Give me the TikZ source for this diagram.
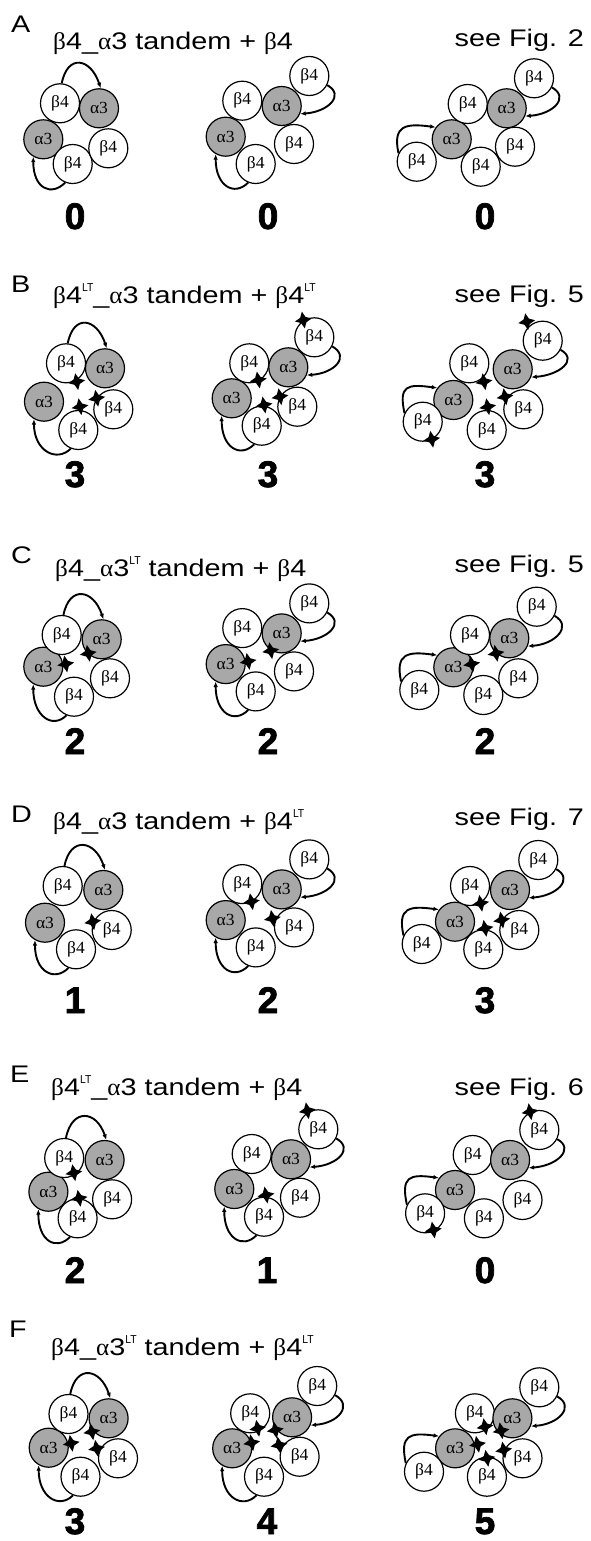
\documentclass[tikz,border=0pt]{standalone}
\usepackage{fontspec}
\setmainfont{Liberation Sans}
\newfontfamily\ttlfont[FakeStretch=1.2]{Liberation Sans}
\newfontfamily\gkfont[FakeStretch=1.05]{Liberation Serif}
\newfontfamily\cirfont[FakeStretch=1.03]{Liberation Serif}
\newfontfamily\ltfont[FakeStretch=0.9]{Liberation Sans}
\newfontfamily\digfont[BoldFeatures={FakeBold=2}]{Liberation Sans}
\usetikzlibrary{arrows.meta}
\definecolor{agray}{RGB}{168,168,168}
\newcommand\gb{{\gkfont β}}
\newcommand\ga{{\gkfont α}}
\newcommand\ltsup{\raisebox{0.47em}{\fontsize{11.5}{11.5}\selectfont\ltfont LT}}
\tikzset{
  sub/.style={circle,draw=black,line width=1.2pt,fill=white,minimum size=39pt,inner sep=0pt,
    font=\fontsize{17}{17}\selectfont\cirfont},
  asub/.style={sub,fill=agray},
  arr/.style={line width=1.9pt,-{Latex[length=5.5pt,width=4.5pt]}},
  ttl/.style={anchor=base west,inner sep=0pt,font=\fontsize{24}{24}\selectfont\ttlfont},
  plab/.style={anchor=base west,inner sep=0pt,font=\fontsize{24}{24}\selectfont\ttlfont},
  fig/.style={anchor=base east,inner sep=0pt,font=\fontsize{24}{24}\selectfont\ttlfont},
  num/.style={anchor=base,inner sep=0pt,font=\fontsize{37}{37}\selectfont\digfont\bfseries},
  star4/.pic={\fill[black,rotate=10] (0,-8.5) -- (2.7,-2.7) -- (8.5,0) -- (2.7,2.7) -- (0,8.5) -- (-2.7,2.7) -- (-8.5,0) -- (-2.7,-2.7) -- cycle;}
}
\newcommand\ring[6]{%
  \node[asub] (#1L) at (#2) {α3};
  \node[sub] (#1TL) at (#3) {β4};
  \node[asub] (#1TR) at (#4) {α3};
  \node[sub] (#1B) at (#5) {β4};
  \node[sub] (#1R) at (#6) {β4};}
\newcommand\ftsub[2]{\node[sub] (#1FT) at (#2) {β4};}
\newcommand\flsub[2]{\node[sub] (#1FL) at (#2) {β4};}
\newcommand\toparr[1]{\draw[arr] (#1TL.85) .. controls +(6,-30) and +(-10,-30) .. (#1TR.85);}
\newcommand\botarr[1]{\draw[arr] (#1B.-112) .. controls +(-14,14) and +(0,32) .. (#1L.-120);}
\newcommand\ftarr[1]{\draw[arr] (#1FT.-27) .. controls +(18,10) and +(28,-2) .. (#1TR.-23);}
\newcommand\flarr[1]{\draw[arr] (#1FL.155) .. controls +(-6,-28) and +(-30,-4) .. (#1L.143);}
\newcommand\st[1]{\pic at (#1) {star4};}
\begin{document}
\begin{tikzpicture}[x=1pt,y=-1pt]
\useasboundingbox (0,0) rectangle (590,1541);
\fill[white] (0,0) rectangle (590,1541);
% ---------------- A
\node[plab] (lA) at (11,33) {A};
\node[ttl] (tA) at (53,50) {\gb4\_\ga3 tandem + \gb4};
\node[fig] (fA) at (584,47) {see Fig. 2};
\ring{A1}{43.3,139.3}{60,103.3}{99,108.3}{72.7,164}{108.3,148.3}
\toparr{A1}\botarr{A1}
\ring{A2}{225.7,136.7}{242.3,100.7}{281.7,106}{255.7,164}{294,144}
\ftsub{A2}{309.3,76}
\ftarr{A2}\botarr{A2}
\ring{A3}{451.7,139.3}{467.7,104}{506.7,108.3}{480.7,166.7}{515,146.7}
\ftsub{A3}{534,78.3}\flsub{A3}{416.7,161.7}
\ftarr{A3}\flarr{A3}
\node[num] (dA1) at (75,229) {0};
\node[num] (dA2) at (268,229) {0};
\node[num] (dA3) at (485,229) {0};
% ---------------- B
\node[plab] (lB) at (11,292) {B};
\node[ttl] (tB) at (53,303) {\gb4\ltsup\_\ga3 tandem + \gb4\ltsup};
\node[fig] (fB) at (584,302) {see Fig. 5};
\ring{B1}{44,401.7}{66,363.3}{105,368.3}{78.3,430}{113.3,409.3}
\toparr{B1}\botarr{B1}
\ring{B2}{231.7,398.3}{249.3,363.3}{288.3,367.3}{261.7,425.7}{297.3,406.7}
\ftsub{B2}{314.3,337.3}
\ftarr{B2}\botarr{B2}
\ring{B3}{453.3,400}{469.3,363.3}{512.7,369.3}{486.7,430}{523.3,409.3}
\ftsub{B3}{542.7,340.7}\flsub{B3}{422.7,421.7}
\ftarr{B3}\flarr{B3}
\st{76.7,381.7}\st{96.7,398.3}\st{80,406.7}
\st{303.3,320}\st{258.3,380}\st{280,396.7}\st{264,405}
\st{526.7,321.7}\st{484,381.7}\st{505,396.7}\st{487.7,406.7}\st{431.7,439.3}
\node[num] (dB1) at (75,487) {3};
\node[num] (dB2) at (268,487) {3};
\node[num] (dB3) at (485,487) {3};
% ---------------- C
\node[plab] (lC) at (11,563) {C};
\node[ttl] (tC) at (55,576) {\gb4\_\ga3\ltsup\ tandem + \gb4};
\node[fig] (fC) at (584,572) {see Fig. 5};
\ring{C1}{43.3,666.7}{61.7,635}{101.7,639.3}{74,696.7}{110,678.3}
\toparr{C1}\botarr{C1}
\ring{C2}{225.7,664.1}{242.3,628.1}{281.7,633.4}{255.7,691.4}{294,671.4}
\ftsub{C2}{309.3,603.4}
\ftarr{C2}\botarr{C2}
\ring{C3}{453.3,667.3}{470,635}{509.3,638.3}{483.3,695}{518.3,678.3}
\ftsub{C3}{536.7,606.7}\flsub{C3}{419.3,690}
\ftarr{C3}\flarr{C3}
\st{65.7,664}\st{88.3,653.3}
\st{248.1,661.4}\st{270.7,650.7}
\st{471.7,664}\st{496,653.3}
\node[num] (dC1) at (75,754) {2};
\node[num] (dC2) at (268,754) {2};
\node[num] (dC3) at (485,754) {2};
% ---------------- D
\node[plab] (lD) at (11,822) {D};
\node[ttl] (tD) at (53,829) {\gb4\_\ga3 tandem + \gb4\ltsup};
\node[fig] (fD) at (584,825) {see Fig. 7};
\ring{D1}{45,922.7}{62.7,886}{103.3,890}{76,949.3}{111.7,930}
\toparr{D1}\botarr{D1}
\ring{D2}{225.7,920.1}{242.3,884.1}{281.7,889.4}{255.7,947.4}{294,927.4}
\ftsub{D2}{309.3,859.4}
\ftarr{D2}\botarr{D2}
\ring{D3}{455,921.7}{470,886}{510,890}{483.3,949.3}{519.3,930}
\ftsub{D3}{538.3,860}\flsub{D3}{421.7,944}
\ftarr{D3}\flarr{D3}
\st{92.7,921.7}
\st{251.4,901.7}\st{272.4,918.4}
\st{480.7,903.3}\st{501.7,920}\st{485,928.3}
\node[num] (dD1) at (75,1013) {1};
\node[num] (dD2) at (268,1013) {2};
\node[num] (dD3) at (485,1013) {3};
% ---------------- E
\node[plab] (lE) at (10,1082) {E};
\node[ttl] (tE) at (51,1095) {\gb4\ltsup\_\ga3 tandem + \gb4};
\node[fig] (fE) at (584,1095) {see Fig. 6};
\ring{E1}{48.4,1191.7}{64.2,1158}{104.6,1160}{77.6,1218.3}{112.1,1199.3}
\toparr{E1}\botarr{E1}
\ring{E2}{234.3,1189}{251.7,1154}{291,1159.3}{264,1216.7}{300,1197.7}
\ftsub{E2}{318.3,1129.3}
\ftarr{E2}\botarr{E2}
\ring{E3}{455,1190}{472.7,1155}{510.1,1160}{483.9,1218.3}{522.5,1200}
\ftsub{E3}{539.3,1130}\flsub{E3}{425.1,1213.3}
\ftarr{E3}\flarr{E3}
\st{73.8,1172.7}\st{79.1,1198.3}
\st{307.3,1110.7}\st{266,1195}
\st{530,1111.7}\st{433.3,1230}
\node[num] (dE1) at (75,1283) {2};
\node[num] (dE2) at (267,1283) {1};
\node[num] (dE3) at (485,1283) {0};
% ---------------- F
\node[plab] (lF) at (9,1337) {F};
\node[ttl] (tF) at (51,1355) {\gb4\_\ga3\ltsup\ tandem + \gb4\ltsup};
\ring{F1}{48.7,1447.7}{68.5,1414}{108.6,1418.3}{80.5,1476.7}{118,1458.3}
\toparr{F1}\botarr{F1}
\ring{F2}{232.2,1448.3}{250.2,1413.3}{292.1,1417.3}{264,1476.7}{299.6,1456.7}
\ftsub{F2}{317.2,1386}
\ftarr{F2}\botarr{F2}
\ring{F3}{455.1,1448.3}{474.9,1413.3}{512.4,1418.3}{486.9,1476.7}{522.5,1458.3}
\ftsub{F3}{539.3,1387.3}\flsub{F3}{424,1471.7}
\ftarr{F3}\flarr{F3}
\st{91.8,1431.7}\st{71.2,1443.3}\st{96.6,1448.3}
\st{257.7,1428.3}\st{275.3,1430}\st{251.7,1442.7}\st{279,1445}
\st{485,1426.7}\st{501.1,1430.7}\st{477.5,1444.3}\st{503.7,1450}\st{486.9,1458.3}
\node[num] (dF1) at (75,1534) {3};
\node[num] (dF2) at (267,1534) {4};
\node[num] (dF3) at (485,1534) {5};
\end{tikzpicture}
\end{document}
